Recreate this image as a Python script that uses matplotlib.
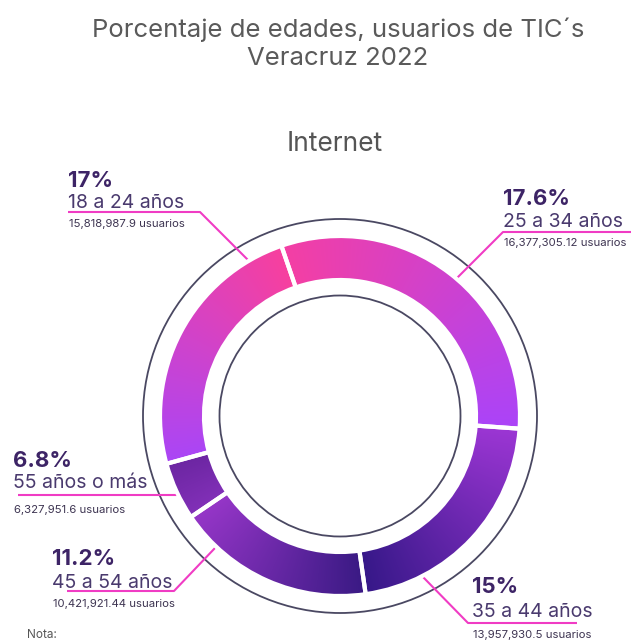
import numpy as np
import matplotlib.pyplot as plt
from matplotlib.colors import to_rgb

W, H = 631, 642

# data, clockwise from the top gap
age_groups = ['25 a 34 años', '35 a 44 años', '45 a 54 años', '55 años o más', '18 a 24 años']
percent_labels = ['17.6%', '15%', '11.2%', '6.8%', '17%']
users = ['16,377,305.12', '13,957,930.5', '10,421,921.44', '6,327,951.6', '15,818,987.9']
# share of the ring each arc covers, as drawn in the picture
ring_share = [31.4, 21.6, 17.8, 5.2, 24.0]

# gradient (clockwise start, end) for each arc
grad_colors = [('#f43fa4', '#ab44f8'),
               ('#9c36d4', '#361888'),
               ('#3a1a84', '#9636c8'),
               ('#8230b8', '#6c26a2'),
               ('#aa46f6', '#f8409e')]

plt.rcParams['font.family'] = ['Inter', 'DejaVu Sans']

def Y(y):
    # picture rows -> data y (y up)
    return H - y

fig = plt.figure(figsize=(W / 100, H / 100), dpi=100)
ax = fig.add_axes([0, 0, 1, 1])

cx, cy = 340, Y(416)
wedges, _ = ax.pie(ring_share, radius=180, center=(cx, cy), startangle=109,
                   counterclock=False,
                   wedgeprops=dict(width=44, edgecolor='white', linewidth=3,
                                   facecolor='none', zorder=3))

# paint every arc with an angular gradient clipped to the wedge
yy, xx = np.mgrid[0:H, 0:W] + 0.5
ang = np.degrees(np.arctan2(yy - cy, xx - cx))
for w, (c0, c1) in zip(wedges, grad_colors):
    a = (ang - w.theta1) % 360 + w.theta1
    t = np.clip((w.theta2 - a) / (w.theta2 - w.theta1), 0, 1)[..., None]
    rgb = np.array(to_rgb(c0)) * (1 - t) + np.array(to_rgb(c1)) * t
    im = ax.imshow(rgb, extent=(0, W, 0, H), origin='lower', zorder=2,
                   interpolation='bilinear')
    im.set_clip_path(w)

ring_col = '#4a4862'
ax.add_patch(plt.Circle((cx, cy), 197, fill=False, ec=ring_col, lw=1.3, zorder=1))
ax.add_patch(plt.Circle((cx, cy), 120.5, fill=False, ec=ring_col, lw=1.3, zorder=1))

# label layout: text x, baselines (pct, age, users), leader line points
layout = [
    dict(x=503, ys=(205, 227, 246), line=[(455, 280), (503, 232), (631, 232)]),
    dict(x=472, ys=(593, 617, 638), line=[(423, 577), (468, 623), (577, 623)]),
    dict(x=52, ys=(565, 588, 607), line=[(215, 548), (174, 591), (67, 591)]),
    dict(x=13, ys=(467, 488, 513), line=[(178, 495), (18, 495)]),
    dict(x=68, ys=(187, 208, 227), line=[(250, 262), (200, 212), (68, 212)]),
]

line_col = '#f03cc4'
for grp, pct, usr, lay in zip(age_groups, percent_labels, users, layout):
    px, py = zip(*lay['line'])
    ax.plot(px, [Y(v) for v in py], color=line_col, lw=1.5, zorder=1.5,
            solid_capstyle='butt')
    x = lay['x']
    ax.text(x, Y(lay['ys'][0]), pct, fontsize=16, fontweight='bold',
            color='#3d2466', va='baseline', ha='left')
    ax.text(x, Y(lay['ys'][1]), grp, fontsize=14, color='#4a3a6e',
            va='baseline', ha='left')
    ax.text(x + 1, Y(lay['ys'][2]), usr + ' usuarios', fontsize=8.2,
            color='#3e3552', va='baseline', ha='left')

ax.text(338, Y(37), 'Porcentaje de edades, usuarios de TIC´s', fontsize=18.5,
        color='#5a5a5a', ha='center', va='baseline')
ax.text(338, Y(65), 'Veracruz 2022', fontsize=18.5, color='#5a5a5a',
        ha='center', va='baseline')
ax.text(335, Y(151), 'Internet', fontsize=19, color='#555555',
        ha='center', va='baseline')
ax.text(27, Y(629), 'Nota:', fontsize=8.5, color='#555555', ha='left', va='top')

ax.set_xlim(0, W)
ax.set_ylim(0, H)
ax.set_aspect('equal')
ax.axis('off')

fig.savefig('out.png', dpi=100)
